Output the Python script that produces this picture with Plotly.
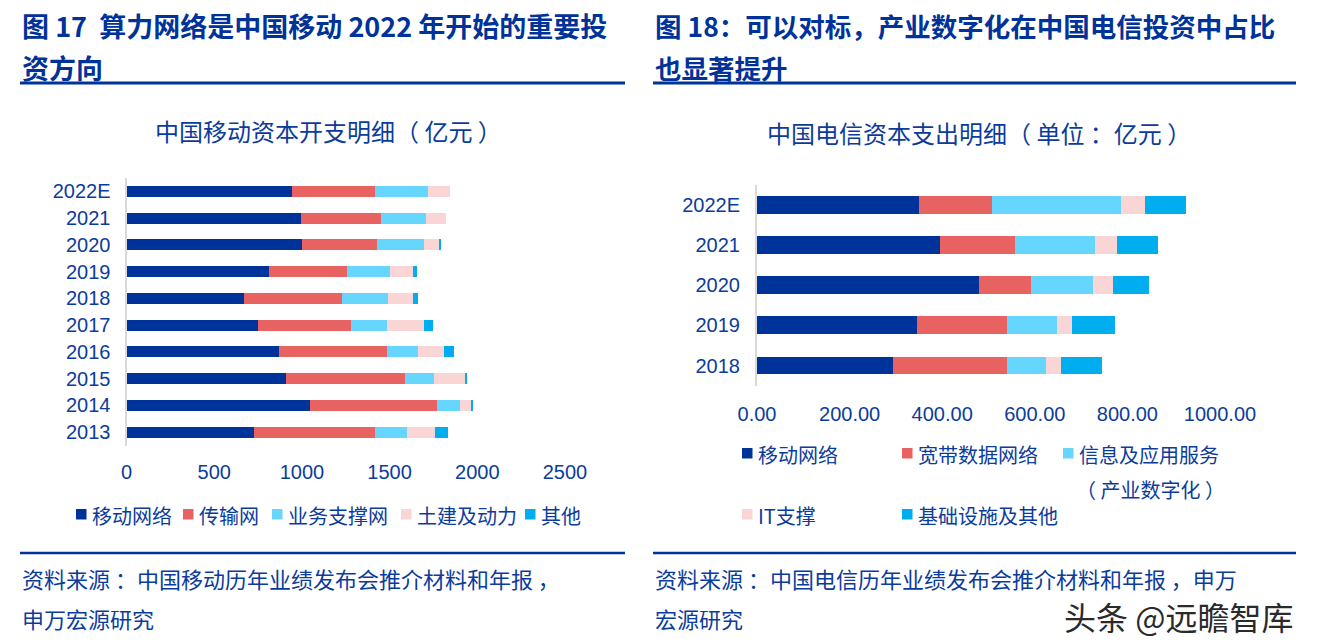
import plotly.graph_objects as go

W, H = 1324, 643

# ---------------- Data ----------------
cm_years = ["2022E", "2021", "2020", "2019", "2018", "2017", "2016", "2015", "2014", "2013"]
cm_series = ["移动网络", "传输网", "业务支撑网", "土建及动力", "其他"]
cm_mobile = [941, 992, 1002, 813, 672, 748, 867, 907, 1047, 725]
cm_transport = [475, 458, 428, 445, 555, 532, 617, 682, 723, 693]
cm_business = [301, 256, 265, 246, 265, 205, 180, 163, 129, 180]
cm_civil = [129, 117, 85, 129, 140, 212, 148, 178, 63, 161]
cm_other = [0, 0, 13, 21, 32, 53, 55, 13, 11, 76]
cm_ticks = [0, 500, 1000, 1500, 2000, 2500]

ct_years = ["2022E", "2021", "2020", "2019", "2018"]
ct_series = ["移动网络", "宽带数据网络", "信息及应用服务<br>（ 产业数字化 ）", "IT支撑", "基础设施及其他"]
ct_mobile = [349.6, 394.8, 479.3, 345.2, 294.1]
ct_broadband = [157.8, 161.5, 113.3, 194.1, 245.2]
ct_info = [277.8, 173.3, 133.3, 108.9, 85.9]
ct_it = [53.3, 48.1, 43.7, 32.6, 31.9]
ct_infra = [88.9, 88.9, 76.3, 92.6, 88.1]
ct_ticks = [0, 200, 400, 600, 800, 1000]

colors = ["#003399", "#E86262", "#66D6FF", "#F9D5D5", "#00AEEF"]
NAVY = "#0B3C9C"
RULE = "#003399"
LAT = "Liberation Sans, Arial, Noto Sans CJK SC, sans-serif"
CJK = "Noto Sans CJK SC, sans-serif"


def fx(px):
    return px / W


def fy(py):
    return 1 - py / H


fig = go.Figure()

for name, vals, c in zip(cm_series, [cm_mobile, cm_transport, cm_business, cm_civil, cm_other], colors):
    fig.add_trace(go.Bar(x=vals, y=cm_years, orientation="h", name=name, marker=dict(color=c, line=dict(width=0)),
                         width=0.42, xaxis="x", yaxis="y", showlegend=False))

for name, vals, c in zip(ct_series, [ct_mobile, ct_broadband, ct_info, ct_it, ct_infra], colors):
    fig.add_trace(go.Bar(x=vals, y=ct_years, orientation="h", name=name, marker=dict(color=c, line=dict(width=0)),
                         width=0.445, xaxis="x2", yaxis="y2", showlegend=False))

axis_common = dict(showgrid=False, zeroline=False, ticks="", fixedrange=True, automargin=False)

fig.update_layout(
    template="none",
    width=W, height=H, margin=dict(l=0, r=0, t=0, b=0, pad=0, autoexpand=False),
    paper_bgcolor="white", plot_bgcolor="white", barmode="stack", showlegend=False,
    xaxis=dict(domain=[fx(126.5), fx(565)], range=[0, 2500], tickvals=cm_ticks, type="linear",
               ticktext=[str(v) for v in cm_ticks], showline=False, anchor="y",
               tickfont=dict(family=LAT, size=20, color=NAVY), ticklabelstandoff=12, **axis_common),
    yaxis=dict(domain=[fy(445.5), fy(178)], type="category", categoryorder="array", categoryarray=cm_years,
               autorange="reversed", showline=True, linecolor="#D9D9D9", linewidth=2, anchor="x",
               tickfont=dict(family=LAT, size=20, color=NAVY), ticklabelstandoff=10, **axis_common),
    xaxis2=dict(domain=[fx(757), fx(1220)], range=[0, 1000], tickvals=ct_ticks, type="linear",
                ticktext=[f"{v:.2f}" for v in ct_ticks], showline=False, anchor="y2",
                tickfont=dict(family=LAT, size=20, color=NAVY), ticklabelstandoff=14, **axis_common),
    yaxis2=dict(domain=[fy(385.6), fy(184.6)], type="category", categoryorder="array", categoryarray=ct_years,
                autorange="reversed", showline=True, linecolor="#D9D9D9", linewidth=2, anchor="x2",
                tickfont=dict(family=LAT, size=20, color=NAVY), ticklabelstandoff=11, **axis_common),
)

ann = []
shapes = []


def text(x, y, s, size, bold=False, family=CJK, color=NAVY, xanchor="left"):
    ann.append(dict(x=fx(x), y=fy(y), xref="paper", yref="paper", text=(f"<b>{s}</b>" if bold else s),
                    showarrow=False, xanchor=xanchor, yanchor="middle",
                    font=dict(family=family, size=size, color=color)))


# Headers
text(20, 25, "图 17  算力网络是中国移动 2022 年开始的重要投", 27, bold=True, color=RULE)
text(20, 67, "资方向", 27, bold=True, color=RULE)
text(653, 25, "图 18：可以对标，产业数字化在中国电信投资中占比", 26.5, bold=True, color=RULE)
text(653, 67, "也显著提升", 26.5, bold=True, color=RULE)

# rules
for (x0, x1) in [(20, 625), (653, 1296)]:
    shapes.append(dict(type="line", xref="paper", yref="paper", x0=fx(x0), x1=fx(x1), y0=fy(83), y1=fy(83),
                       line=dict(color=RULE, width=3)))
    shapes.append(dict(type="line", xref="paper", yref="paper", x0=fx(x0), x1=fx(x1), y0=fy(553), y1=fy(553),
                       line=dict(color=RULE, width=2.5)))

# chart titles
text(328, 130, "中国移动资本开支明细（ 亿元 ）", 24, xanchor="center")
text(979, 133, "中国电信资本支出明细（ 单位 ：亿元 ）", 24, xanchor="center")


# legends
def legend_item(sq_x, y, label, color, size=20):
    shapes.append(dict(type="rect", xref="paper", yref="paper", x0=fx(sq_x), x1=fx(sq_x + 10.5),
                       y0=fy(y + 4.5), y1=fy(y - 6), fillcolor=color, line=dict(width=0)))
    text(sq_x + 14, y, label, size)


left_leg_x = [76, 183, 272, 401, 525]
for sx, name, c in zip(left_leg_x, cm_series, colors):
    legend_item(sx, 515, name, c)

right_leg = [(742, 454), (902, 454), (1063, 454), (742, 515), (902, 515)]
for (sx, sy), name, c in zip(right_leg, ct_series, colors):
    legend_item(sx, sy, name.split("<br>")[0], c)
text(1074, 490, ct_series[2].split("<br>")[1], 20)

# sources
text(20, 578, "资料来源 ：中国移动历年业绩发布会推介材料和年报 ，", 22)
text(20, 618, "申万宏源研究", 22)
text(653, 578, "资料来源 ：中国电信历年业绩发布会推介材料和年报 ，申万", 22)
text(653, 618, "宏源研究", 22)

# watermark
text(1062, 616, "头条 @远瞻智库", 32, color="#2a2a2a")

fig.update_layout(annotations=ann, shapes=shapes)
fig.write_html("out.html", config={"displayModeBar": False},
               post_script="document.body.style.margin='0px';document.body.style.padding='0px';")
